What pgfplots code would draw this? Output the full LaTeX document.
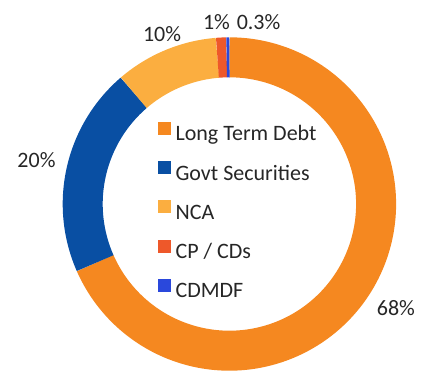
\documentclass[border=0pt]{standalone}
\usepackage{fontspec}
\setmainfont{Carlito}
\usepackage{pgfplots}
\pgfplotsset{compat=1.18}
\usepgfplotslibrary{polar}
\definecolor{cLTD}{RGB}{245,136,32}
\definecolor{cGS}{RGB}{9,79,163}
\definecolor{cNCA}{RGB}{251,174,64}
\definecolor{cCP}{RGB}{238,88,42}
\definecolor{cCD}{RGB}{42,72,220}
\definecolor{txt}{RGB}{38,38,38}
% shares in percent
\def\vLTD{68.4}
\def\vGS{20.3}
\def\vNCA{10.0}
\def\vCP{1.0}
\def\vCD{0.3}
\pgfmathsetmacro\aA{90}
\pgfmathsetmacro\aB{\aA-3.6*\vLTD}
\pgfmathsetmacro\aC{\aB-3.6*\vGS}
\pgfmathsetmacro\aD{\aC-3.6*\vNCA}
\pgfmathsetmacro\aE{\aD-3.6*\vCP}
\pgfmathsetmacro\aF{\aE-3.6*\vCD}
\begin{document}
\begin{tikzpicture}
\useasboundingbox (0,0) rectangle (429pt,376pt);
\begin{polaraxis}[
  at={(229.4pt,172pt)}, anchor=center,
  scale only axis, width=333.4pt, height=333.4pt,
  hide axis, xmin=0, xmax=360, ymin=0, ymax=1,
  clip=false,
  legend cell align=left,
  legend style={at={(0.523,0.475)}, anchor=center, draw=none, fill=none,
    font=\fontsize{22}{26}\selectfont, text=txt,
    row sep=15.3pt, column sep=5pt, inner sep=0pt,
    nodes={inner sep=0pt, text height=16pt, text depth=5pt}},
  legend image code/.code={\fill[#1, draw=none, line width=0pt] (0pt,0.5pt) rectangle (13pt,13.5pt);},
]
\addplot[no markers, cLTD, line width=40pt, domain=\aB:\aA, samples=250] {0.88};
\addlegendentry{Long Term Debt}
\addplot[no markers, cGS, line width=40pt, domain=\aC:\aB, samples=80] {0.88};
\addlegendentry{Govt Securities}
\addplot[no markers, cNCA, line width=40pt, domain=\aD:\aC, samples=40] {0.88};
\addlegendentry{NCA}
\addplot[no markers, cCP, line width=40pt, domain=\aE:\aD, samples=4] {0.88};
\addlegendentry{CP / CDs}
\addplot[no markers, cCD, line width=40pt, domain=\aF:\aE, samples=3] {0.88};
\addlegendentry{CDMDF}
\node[font=\fontsize{22}{26}\selectfont, text=txt, inner sep=0pt] at (axis cs:-32.0,1.178) {68\%};
\node[font=\fontsize{22}{26}\selectfont, text=txt, inner sep=0pt] at (axis cs:167.15,1.187) {20\%};
\node[font=\fontsize{22}{26}\selectfont, text=txt, inner sep=0pt] at (axis cs:111.6,1.097) {10\%};
\node[font=\fontsize{22}{26}\selectfont, text=txt, inner sep=0pt] at (axis cs:94.07,1.092) {1\%};
\node[font=\fontsize{22}{26}\selectfont, text=txt, inner sep=0pt] at (axis cs:80.9,1.106) {0.3\%};
\end{polaraxis}
\end{tikzpicture}
\end{document}
